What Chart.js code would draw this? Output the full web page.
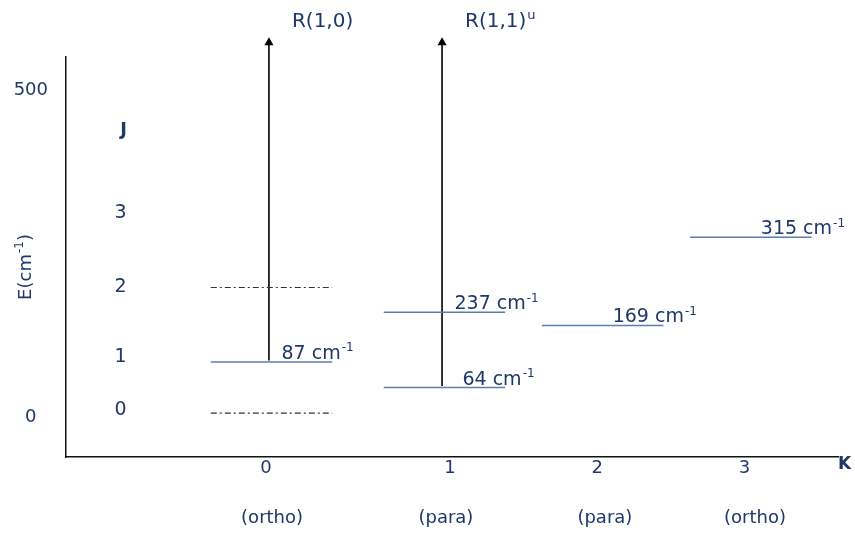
<!DOCTYPE html>
<html>
<head>
<meta charset="utf-8">
<script src="https://cdn.jsdelivr.net/npm/chart.js@4.4.1/dist/chart.umd.min.js"></script>
<style>
  html, body { margin: 0; padding: 0; background: #fff; }
  #wrap { width: 855px; height: 533px; }
</style>
</head>
<body>
<div id="wrap"><canvas id="chart"></canvas></div>
<script>
// K columns on the x axis
const kTicks = ['0', '1', '2', '3'];
const kSpin = ['(ortho)', '(para)', '(para)', '(ortho)'];
const kPos = [0, 1, 1.8, 2.6];
const kSpinPos = [0.033, 0.978, 1.842, 2.658];

// y axis ticks (cm-1)
const yTicks = [0, 500];

// rotational levels. the diagram is schematic: heights are as drawn, energies are the labels
const levelK = [0, 0, 0, 1, 1, 2, 3];
const levelEnergy = [null, 87, null, 64, 237, 169, 315];
const levelHeight = [6, 84, 198, 45, 160, 140, 275];
const levelDashed = [true, false, true, false, false, false, false];

// J labels beside the K=0 ladder
const jRows = ['0', '1', '2', '3'];
const jRowHeight = [11, 92, 199, 312];
const jHeaderHeight = 439;

// transitions: start level, name
const arrowFrom = [1, 3];
const arrowName = ['R(1,0)', 'R(1,1)'];
const arrowSup = ['', 'u'];
const arrowTop = 573;

// layout / style
const NAVY = '#1f3869';
const LEVEL_COLOR = '#5b7db0';
const LEVEL_HALF = 0.33;
const LEVEL_SHIFT = [0.03, -0.03, 0.03, 0.035];
const LABEL_NUDGE = [0, 0, 0, 8, 0, 0, 0];
const ARROW_SHIFT = [0.016, -0.043];
const X_MIN = -1.087, X_MAX = 3.109;
const Y_MIN = -61.2, Y_MAX = 550.5;
const FAMILY = '"DejaVu Sans", Verdana, sans-serif';

Chart.defaults.font.family = FAMILY;
Chart.defaults.color = NAVY;

// text with superscript parts: parts = ['E(cm', ['-1'], ')']
function drawRich(ctx, parts, x, y, size, align) {
  const supSize = Math.round(size * 0.64);
  let total = 0;
  const widths = parts.map(p => {
    const sup = Array.isArray(p);
    ctx.font = `${sup ? supSize : size}px ${FAMILY}`;
    const w = ctx.measureText(sup ? p[0] : p).width + (sup ? 1 : 0);
    total += w;
    return w;
  });
  let cx = align === 'center' ? x - total / 2 : x;
  ctx.textAlign = 'left';
  ctx.textBaseline = 'alphabetic';
  parts.forEach((p, i) => {
    const sup = Array.isArray(p);
    ctx.font = `${sup ? supSize : size}px ${FAMILY}`;
    if (sup) ctx.fillText(p[0], cx + 1, y - size * 0.4);
    else ctx.fillText(p, cx, y);
    cx += widths[i];
  });
}

const datasets = levelK.map((k, i) => {
  const c = kPos[k] + LEVEL_SHIFT[k];
  const dashed = levelDashed[i];
  return {
    data: [{ x: c - LEVEL_HALF, y: levelHeight[i] }, { x: c + LEVEL_HALF, y: levelHeight[i] }],
    borderColor: dashed ? '#333' : LEVEL_COLOR,
    borderWidth: dashed ? 1.2 : 1.5,
    borderDash: dashed ? [6, 3, 2, 3] : [],
    pointRadius: 0,
    showLine: true,
  };
});

const arrowStart = datasets.length;
arrowFrom.forEach((li, j) => {
  const ax = kPos[levelK[li]] + ARROW_SHIFT[j];
  datasets.push({
    data: [{ x: ax, y: levelHeight[li] + 2.5 }, { x: ax, y: arrowTop }],
    borderColor: '#000',
    borderWidth: 1.6,
    showLine: true,
    pointRadius: 0,
    clip: false,
  });
});

const annotations = {
  id: 'annotations',
  afterDraw(chart) {
    const { ctx, chartArea, scales: { x, y } } = chart;
    ctx.save();

    // arrow heads at the top point of each transition (points outside the area are not drawn by Chart.js)
    ctx.fillStyle = '#000';
    arrowFrom.forEach((li, j) => {
      const tip = chart.getDatasetMeta(arrowStart + j).data[1];
      ctx.beginPath();
      ctx.moveTo(tip.x, tip.y - 5);
      ctx.lineTo(tip.x + 4.5, tip.y + 3);
      ctx.lineTo(tip.x - 4.5, tip.y + 3);
      ctx.closePath();
      ctx.fill();
    });

    ctx.fillStyle = NAVY;

    // energy labels on the levels
    levelK.forEach((k, i) => {
      if (levelEnergy[i] === null) return;
      const px = x.getPixelForValue(kPos[k] + LEVEL_SHIFT[k]) + 10 + LABEL_NUDGE[i];
      const py = y.getPixelForValue(levelHeight[i]) - 3;
      drawRich(ctx, [levelEnergy[i] + ' cm', ['-1']], px, py, 19, 'left');
    });

    // J column
    const jx = x.getPixelForValue(-0.79);
    ctx.textAlign = 'center';
    ctx.textBaseline = 'middle';
    ctx.font = `19px ${FAMILY}`;
    jRows.forEach((t, i) => ctx.fillText(t, jx, y.getPixelForValue(jRowHeight[i])));
    ctx.font = `bold 18px ${FAMILY}`;
    ctx.fillText('J', jx + 3, y.getPixelForValue(jHeaderHeight));

    // transition names
    arrowFrom.forEach((li, j) => {
      const ax = x.getPixelForValue(kPos[levelK[li]] + ARROW_SHIFT[j]);
      const parts = arrowSup[j] ? [arrowName[j], [arrowSup[j]]] : [arrowName[j]];
      drawRich(ctx, parts, ax + 23, y.getPixelForValue(arrowTop) - 15, 20, 'left');
    });

    // K axis name
    ctx.font = `bold 17px ${FAMILY}`;
    ctx.textAlign = 'left';
    ctx.textBaseline = 'middle';
    ctx.fillText('K', chartArea.right, chartArea.bottom + 8);

    // y axis title
    ctx.translate(24, 267);
    ctx.rotate(-Math.PI / 2);
    drawRich(ctx, ['E(cm', ['-1'], ')'], 0, 6.5, 18, 'center');
    ctx.restore();
  },
};

new Chart(document.getElementById('chart'), {
  type: 'scatter',
  data: { datasets },
  plugins: [annotations],
  options: {
    responsive: true,
    maintainAspectRatio: false,
    animation: false,
    layout: { padding: { top: 57, right: 17, left: 0, bottom: 0 } },
    plugins: { legend: { display: false }, tooltip: { enabled: false } },
    scales: {
      x: {
        type: 'linear',
        position: 'bottom',
        weight: 0,
        min: X_MIN,
        max: X_MAX,
        afterBuildTicks: s => { s.ticks = kPos.map(v => ({ value: v })); },
        afterFit: s => { s.height = 26; },
        ticks: { callback: (v, i) => kTicks[i], font: { size: 18 }, padding: 1, autoSkip: false, maxRotation: 0 },
        grid: { display: false, drawTicks: false },
        border: { display: true, color: '#111', width: 1.5 },
      },
      xSpin: {
        type: 'linear',
        position: 'bottom',
        weight: 1,
        min: X_MIN,
        max: X_MAX,
        afterBuildTicks: s => { s.ticks = kSpinPos.map(v => ({ value: v })); },
        afterFit: s => { s.height = 50; },
        ticks: { callback: (v, i) => kSpin[i], font: { size: 18 }, padding: 25, autoSkip: false, maxRotation: 0 },
        grid: { display: false, drawTicks: false },
        border: { display: false },
      },
      y: {
        type: 'linear',
        min: Y_MIN,
        max: Y_MAX,
        afterBuildTicks: s => { s.ticks = yTicks.map(v => ({ value: v })); },
        afterFit: s => { s.width = 66; },
        ticks: { font: { size: 18 }, padding: 18, crossAlign: 'center' },
        grid: { display: false, drawTicks: false },
        border: { display: true, color: '#111', width: 1.5 },
      },
    },
  },
});
</script>
</body>
</html>
